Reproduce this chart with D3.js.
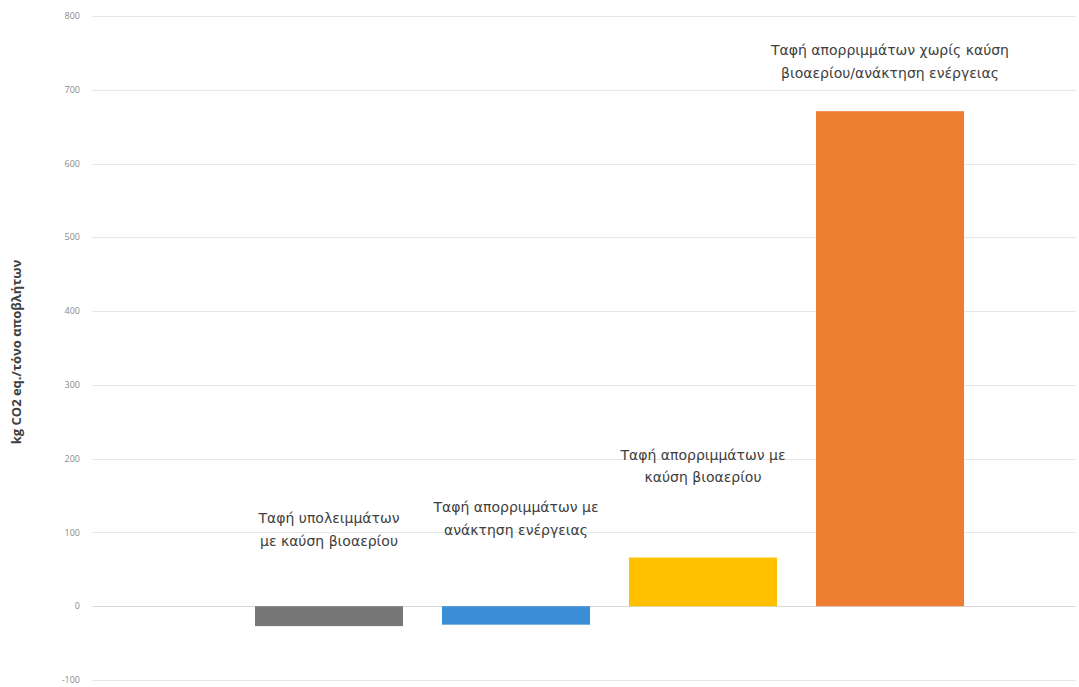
<!DOCTYPE html>
<html>
<head>
<meta charset="utf-8">
<script src="https://cdn.jsdelivr.net/npm/d3@7"></script>
<style>
  body { margin: 0; background: #fff; }
  svg { display: block; font-family: "Open Sans", sans-serif; }
</style>
</head>
<body>
<div id="chart"></div>
<script>
const width = 1079;
const height = 687;

// data
const categories = ["gray", "blue", "yellow", "orange"];
const values = [-27, -25, 66, 671];
const barLabels = [
  ["Ταφή υπολειμμάτων", "με καύση βιοαερίου"],
  ["Ταφή απορριμμάτων με", "ανάκτηση ενέργειας"],
  ["Ταφή απορριμμάτων με", "καύση βιοαερίου"],
  ["Ταφή απορριμμάτων χωρίς καύση", "βιοαερίου/ανάκτηση ενέργειας"],
];
const yTicks = [-100, 0, 100, 200, 300, 400, 500, 600, 700, 800];
const yTitle = "kg CO2  eq./τόνο αποβλήτων";

// where each label's last line sits (in axis units), hand placed in the original
const labelAt = [82, 97, 168, 716];
const colors = ["#777777", "#3b8dd6", "#ffc000", "#ed7d31"];

const svg = d3.select("#chart").append("svg")
  .attr("width", width)
  .attr("height", height);

const y = d3.scaleLinear().domain([-100, 800]).range([680, 16]);
const x = d3.scaleBand().domain(categories).range([255, 964])
  .paddingInner(0.2086).paddingOuter(0);

// gridlines
svg.append("g")
  .selectAll("line")
  .data(yTicks)
  .join("line")
  .attr("x1", 92)
  .attr("x2", 1076)
  .attr("y1", (d) => Math.round(y(d)) + 0.5)
  .attr("y2", (d) => Math.round(y(d)) + 0.5)
  .attr("stroke", (d) => (d === 0 ? "#d9d9d9" : "#e6e6e6"))
  .attr("stroke-width", 1);

// tick labels
svg.append("g")
  .selectAll("text")
  .data(yTicks)
  .join("text")
  .attr("x", 80)
  .attr("y", (d) => y(d))
  .attr("dy", "0.35em")
  .attr("text-anchor", "end")
  .attr("font-size", 9)
  .attr("fill", "#8a8a8a")
  .text((d) => d);

// bars
svg.append("g")
  .selectAll("rect")
  .data(values)
  .join("rect")
  .attr("x", (d, i) => x(categories[i]))
  .attr("width", x.bandwidth())
  .attr("y", (d) => y(Math.max(0, d)))
  .attr("height", (d) => Math.abs(y(d) - y(0)))
  .attr("fill", (d, i) => colors[i]);

// bar labels
const lab = svg.append("g")
  .selectAll("text")
  .data(barLabels)
  .join("text")
  .attr("text-anchor", "middle")
  .attr("font-family", "DejaVu Sans, sans-serif")
  .attr("font-size", 14)
  .attr("fill", "#404040")
  .attr("x", (d, i) => x(categories[i]) + x.bandwidth() / 2)
  .attr("y", (d, i) => y(labelAt[i]));

lab.selectAll("tspan")
  .data((d) => d.map((t, j) => ({ t, j, n: d.length })))
  .join("tspan")
  .attr("x", function () { return d3.select(this.parentNode).attr("x"); })
  .attr("dy", (d) => (d.j === 0 ? -(d.n - 1) * 22.5 : 22.5))
  .text((d) => d.t);

// y axis title
svg.append("text")
  .attr("transform", "translate(21,352) rotate(-90)")
  .attr("text-anchor", "middle")
  .attr("font-size", 13)
  .attr("font-weight", "bold")
  .attr("fill", "#404040")
  .text(yTitle);
</script>
</body>
</html>
